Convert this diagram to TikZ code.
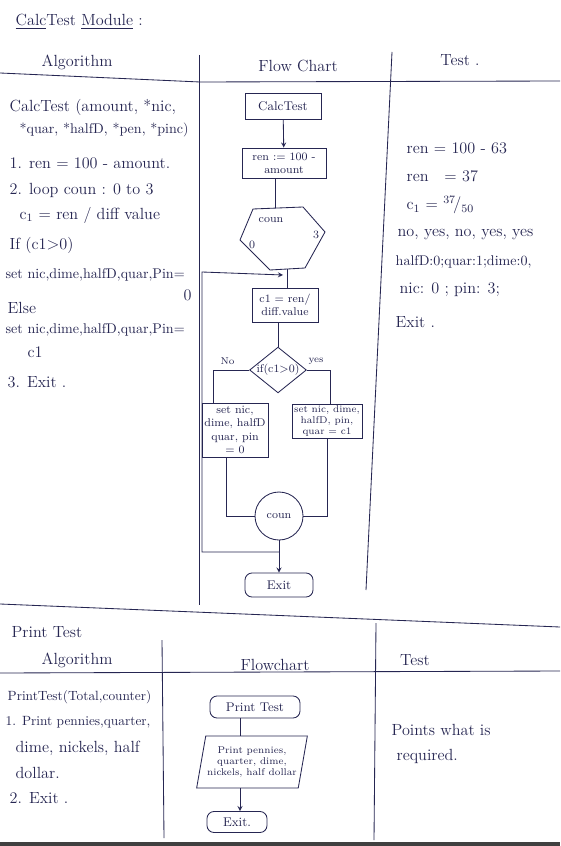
\documentclass[tikz,border=0pt]{standalone}
\usepackage{amsmath}
\usepackage{tikz}
\usetikzlibrary{calc,arrows.meta,shapes.geometric,positioning}
\definecolor{ink}{RGB}{38,38,82}

\begin{document}
\begin{tikzpicture}[x=0.25mm, y=-0.25mm, font=\fontsize{11.5}{13}\selectfont, >=stealth,
    every node/.style={text=ink},
    line/.style={draw=ink, semithick},
    txt/.style={anchor=west, inner sep=1pt},
    tight/.style={txt, font=\fontsize{10}{12}\selectfont},
    box/.style={draw=ink, semithick, align=center, font=\footnotesize, inner sep=1pt},
    term/.style={box, rounded corners=5pt},
    io/.style={box, trapezium, trapezium left angle=75, trapezium right angle=105}]
	\useasboundingbox (0,0) rectangle (560,846);
	\fill[white] (0,0) rectangle (560,846);
	% top section: frame
	\draw[line] (0,73) -- (200,82) -- (560,81);
	\draw[line] (199,55) -- (199,605);
	\draw[line] (392,52) -- (366,590);
	\draw[line] (0,604) -- (560,627);
	\node[txt] (title) at (14,22) {\underline{Calc}Test \underline{Module} :};
	\node[txt] (halg) at (40,62) {Algorithm};
	\node (hflow) at (298,66) {Flow Chart};
	\node (htest) at (460,60) {Test .};
	% algorithm text
	\node[txt] (a1) at (8,107) {CalcTest (amount, *nic,};
	\node[tight] (a2) at (18,130) {*quar, *halfD, *pen, *pinc)};
	\node[txt] (a3) at (8,163) {1. ren = 100 - amount.};
	\node[txt] (a4) at (8,190) {2. loop coun : 0 to 3};
	\node[txt] (a5) at (18,215) {c$_1$ = ren / diff value};
	\node[txt] (a6) at (8,245) {If (c1$>$0)};
	\node[tight] (a7) at (4,275) {set nic,dime,halfD,quar,Pin=};
	\node[txt] (a8) at (182,295) {0};
	\node[txt] (a9) at (6,308) {Else};
	\node[tight] (a10) at (4,330) {set nic,dime,halfD,quar,Pin=};
	\node[txt] (a11) at (26,352) {c1};
	\node[txt] (a12) at (6,382) {3. Exit .};
	% flow chart
	\node[box, font=\small, minimum width=19mm, minimum height=6.5mm] (start) at (283,106) {CalcTest};
	\node[box, minimum width=21mm, minimum height=7.5mm] (rem) at (284,163) {ren := 100 -\\ amount};
	\coordinate (hex) at (283,240);
	\draw[line] ($(hex)+(-30,-31)$) coordinate (hextl) -- ($(hex)+(20,-33)$) -- ($(hex)+(42,-8)$)
		-- ($(hex)+(22,28)$) -- ($(hex)+(-13,30)$) coordinate (hexbl) -- ($(hex)+(-43,0)$) -- cycle;
	\coordinate (hextop) at ($(hex)+(-8,-32)$);
	\coordinate (hexbot) at ($(hex)+(4,29)$);
	\node[font=\footnotesize] (hcoun) at ($(hex)+(-12,-20)$) {coun};
	\node[font=\footnotesize] (hzero) at ($(hex)+(-31,5)$) {0};
	\node[font=\footnotesize] (hthree) at ($(hex)+(33,-5)$) {3};
	\node[box, minimum width=16.5mm, minimum height=8.5mm] (cbox) at (285,305) {c1 = ren/\\ diff.value};
	\node[box, diamond, aspect=1.24, inner sep=0pt, minimum width=14.2mm] (cond) at (278,370) {if(c1$>$0)};
	\node[box, minimum width=16.5mm, minimum height=13.5mm] (setz) at (235,430) {set nic,\\ dime, halfD\\ quar, pin\\ = 0};
	\node[box, font=\scriptsize, minimum width=17.5mm, minimum height=8mm] (setc) at (327,421) {set nic, dime,\\ halfD, pin,\\ quar = c1};
	\node[box, circle, minimum size=12mm] (coun) at (279,516) {coun};
	\node[term, font=\small, minimum width=17mm, minimum height=6mm] (exit) at (279,585) {Exit};
	\draw[line, ->] (start) -- (rem);
	\draw[line] (rem.south -| hextop) -- (hextop);
	\draw[line] (hexbot) -- (hexbot |- cbox.north);
	\draw[line] (cbox.south -| cond.north) -- (cond.north);
	\draw[line] (cond.west) -- (213,370) node[above, font=\scriptsize, pos=0.6] (lno) {No} -- (setz.north -| 213,0);
	\draw[line] (cond.east) -- (330,370) node[above, font=\scriptsize, pos=0.4] (lyes) {yes} -- (setc.north -| 330,0);
	\draw[line] (setz.south -| 226,0) -- (226,516) -- (coun.west);
	\draw[line] (setc.south) -- (setc.south |- coun.east) -- (coun.east);
	\draw[line, ->] (coun.south) -- (exit.north);
	\coordinate (back) at (coun.south |- 0,552);
	\draw[line, ->] (back) -- (202,552) -- (202,272) -- (283,275);
	% test text
	\node[txt] (t1) at (405,148) {ren = 100 - 63};
	\node[txt] (t2) at (405,176) {ren \ \ = 37};
	\node[txt] (t3) at (405,205) {c$_1$ = $^{37}\!/_{50}$};
	\node[txt] (t4) at (396,235) {no, yes, no, yes, yes};
	\node[tight] (t5) at (394,262) {halfD:0;quar:1;dime:0,};
	\node[txt] (t6) at (398,290) {nic: 0 ; pin: 3;};
	\node[txt] (t7) at (394,322) {Exit .};
	% print test section
	\draw[line] (0,673) -- (560,671);
	\draw[line] (162,640) -- (164,838);
	\draw[line] (376,623) -- (374,840);
	\node[txt] (ptitle) at (10,632) {Print Test};
	\node[txt] (palg) at (40,660) {Algorithm};
	\node (pflow) at (275,665) {Flowchart};
	\node (ptest) at (415,660) {Test};
	\node[tight, font=\fontsize{9.5}{11}\selectfont] (p1) at (6,697) {PrintTest(Total,counter)};
	\node[tight, font=\fontsize{9.5}{11}\selectfont] (p2) at (4,722) {1. Print pennies,quarter,};
	\node[txt] (p3) at (14,748) {dime, nickels, half};
	\node[txt] (p4) at (14,773) {dollar.};
	\node[txt] (p5) at (8,798) {2. Exit .};
	\node[term, font=\small, minimum width=22.5mm, minimum height=5.5mm] (pstart) at (255,707) {Print Test};
	\node[io, font=\scriptsize, minimum height=13mm, trapezium stretches body] (pio) at (252,762) {Print pennies,\\ quarter, dime,\\ nickels, half dollar};
	\node[term, font=\small, minimum width=15mm, minimum height=5.25mm] (pexit) at (237,822) {Exit.};
	\draw[line] (pstart.south -| 240,0) -- (pio.north -| 240,0);
	\draw[line, ->] (pio.south -| 240,0) -- (pexit.north -| 240,0);
	\node[txt] (pt1) at (390,730) {Points what is};
	\node[txt] (pt2) at (395,756) {required.};
	\fill[black!75] (0,842) rectangle (560,846);
\end{tikzpicture}
\end{document}
